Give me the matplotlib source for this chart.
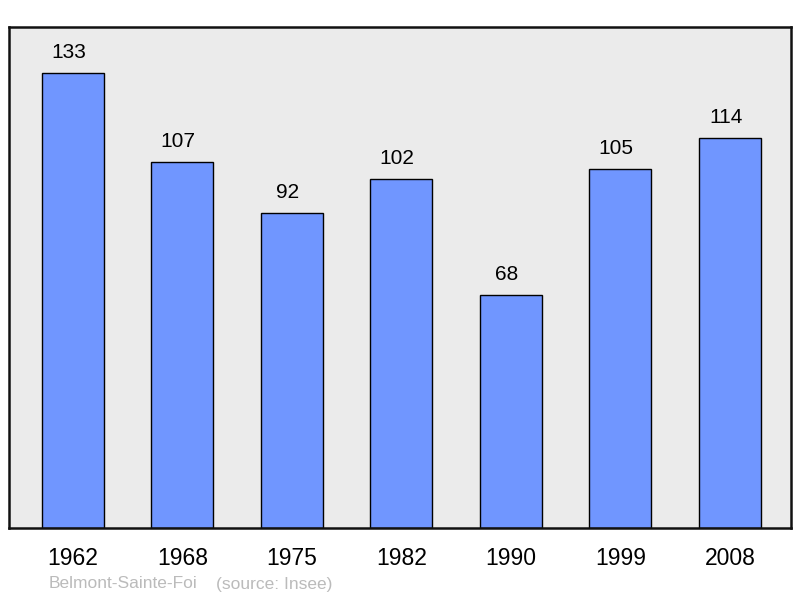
import matplotlib
matplotlib.use('Agg')
import matplotlib.pyplot as plt
import numpy as np

plt.rcParams['font.family'] = ['Liberation Sans', 'DejaVu Sans']

years = ['1962', '1968', '1975', '1982', '1990', '1999', '2008']
population = [133, 107, 92, 102, 68, 105, 114]

fig = plt.figure(figsize=(8, 5.98), dpi=100)
ax = fig.add_axes([9 / 800, 1 - 528 / 598, 782 / 800, 501 / 598])
ax.set_facecolor('#ebebeb')

x = np.arange(len(years))
ax.bar(x, population, width=0.566, color='#7096ff', edgecolor='black', linewidth=1.0, zorder=2)
for xi, v in zip(x, population):
    ax.annotate(str(v), (xi, v), xytext=(-3, 8), textcoords='offset points',
                ha='center', va='bottom', fontsize=15)

ax.set_xlim(-0.584, 6.558)
ax.set_ylim(0, 146.5)
ax.set_yticks([])
ax.set_xticks(x)
ax.set_xticklabels(years, fontsize=16.5)
ax.tick_params(axis='x', length=0, pad=14)
for s in ax.spines.values():
    s.set_linewidth(1.8)
    s.set_color('#111111')

fig.text(49 / 800, 1 - 584 / 598, 'Belmont-Sainte-Foi', color='#bbbbbb',
         fontsize=12.5, ha='left', va='center')
fig.text(216 / 800, 1 - 584 / 598, '(source: Insee)', color='#bbbbbb',
         fontsize=12.5, ha='left', va='center')

fig.savefig('out.png', dpi=100)
